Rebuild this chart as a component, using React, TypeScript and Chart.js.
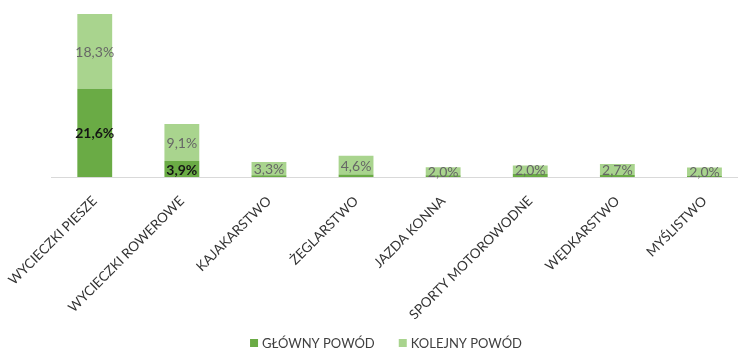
import React, { useEffect, useRef } from "react";
import { Chart, registerables } from "chart.js";

Chart.register(...registerables);

const categories = [
  "WYCIECZKI PIESZE",
  "WYCIECZKI ROWEROWE",
  "KAJAKARSTWO",
  "ŻEGLARSTWO",
  "JAZDA KONNA",
  "SPORTY MOTOROWODNE",
  "WĘDKARSTWO",
  "MYŚLISTWO",
];
const glownyPowod = [21.6, 3.9, 0.4, 0.6, 0.4, 0.8, 0.5, 0.3];
const kolejnyPowod = [18.3, 9.1, 3.3, 4.6, 2.0, 2.0, 2.7, 2.0];
const seriesNames = ["GŁÓWNY POWÓD", "KOLEJNY POWÓD"];

const FONT = "Lato, 'Open Sans', 'DejaVu Sans', sans-serif";

const fmt = (v: number) => v.toFixed(1).replace(".", ",") + "%";

const labelPlugin = {
  id: "segLabels",
  afterDatasetsDraw(chart: any) {
    const ctx = chart.ctx;
    ctx.save();
    ctx.textAlign = "center";
    ctx.textBaseline = "middle";
    chart.data.datasets.forEach((ds: any, di: number) => {
      const meta = chart.getDatasetMeta(di);
      meta.data.forEach((el: any, i: number) => {
        const v = ds.data[i];
        if (di === 0 && v < 2) return;
        const yc = (el.y + el.base) / 2;
        if (di === 0) {
          ctx.font = `bold 14px ${FONT}`;
          ctx.fillStyle = "#151515";
        } else {
          ctx.font = `14px ${FONT}`;
          ctx.fillStyle = "#666666";
        }
        ctx.fillText(fmt(v), el.x, yc + 1);
      });
    });
    ctx.restore();
  },
};

const legendPlugin = {
  id: "customLegend",
  afterDraw(chart: any) {
    const ctx = chart.ctx;
    ctx.save();
    ctx.font = `13px ${FONT}`;
    ctx.textBaseline = "middle";
    ctx.textAlign = "left";
    const box = 8;
    const gapText = 4;
    const gapItem = 24;
    const items = chart.data.datasets.map((ds: any) => ({
      text: ds.label,
      color: ds.backgroundColor,
      w: box + gapText + ctx.measureText(ds.label).width,
    }));
    const total = items.reduce((s: number, it: any) => s + it.w, 0) + gapItem * (items.length - 1);
    const cy = 343;
    let x = 386 - total / 2;
    items.forEach((it: any) => {
      ctx.fillStyle = it.color;
      ctx.fillRect(x, cy - box / 2, box, box);
      ctx.fillStyle = "#404040";
      ctx.fillText(it.text, x + box + gapText, cy + 1);
      x += it.w + gapItem;
    });
    ctx.restore();
  },
};

export default function App() {
  const ref = useRef<HTMLCanvasElement | null>(null);
  useEffect(() => {
    if (!ref.current) return;
    const chart = new Chart(ref.current, {
      type: "bar",
      data: {
        labels: categories,
        datasets: [
          {
            label: seriesNames[0],
            data: glownyPowod,
            backgroundColor: "#6aab45",
            categoryPercentage: 1,
            barPercentage: 0.4,
          },
          {
            label: seriesNames[1],
            data: kolejnyPowod,
            backgroundColor: "#a9d48e",
            categoryPercentage: 1,
            barPercentage: 0.4,
          },
        ],
      },
      options: {
        animation: false,
        responsive: false,
        layout: { padding: { left: 47, right: 12, top: 14, bottom: 0 } },
        plugins: {
          legend: { display: false },
          tooltip: { enabled: false },
        },
        scales: {
          x: {
            stacked: true,
            grid: { display: false },
            border: { display: true, color: "#d9d9d9", width: 1 },
            afterFit: (scale: any) => {
              scale.height = 173;
            },
            ticks: {
              minRotation: 45,
              maxRotation: 45,
              color: "#333333",
              font: { family: FONT, size: 13.5 },
              padding: 8,
            },
          },
          y: {
            stacked: true,
            display: false,
            min: 0,
            max: 39.9,
          },
        },
      },
      plugins: [labelPlugin, legendPlugin],
    });
    return () => chart.destroy();
  }, []);
  return (
    <div style={{ position: "absolute", left: 0, top: 0, width: 760, height: 350, overflow: "hidden" }}>
      <canvas ref={ref} width={760} height={350} />
    </div>
  );
}
